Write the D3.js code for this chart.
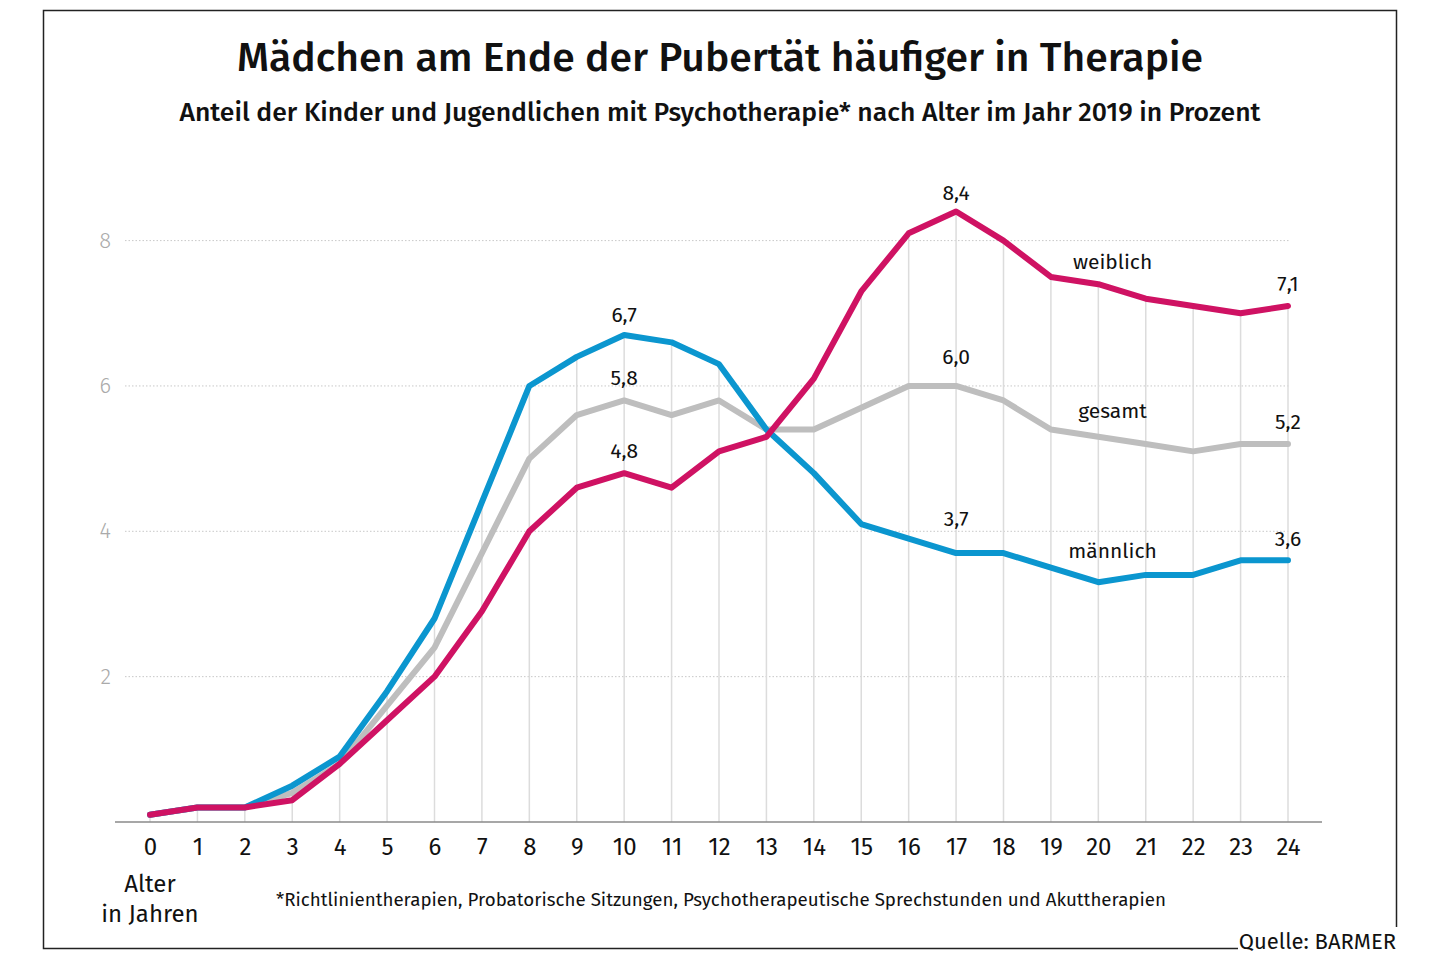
<!DOCTYPE html>
<html>
<head>
<meta charset="utf-8">
<script src="https://cdn.jsdelivr.net/npm/d3@7"></script>
<style>
  body { margin: 0; background: #fff; }
  text { font-family: "Fira Sans", Roboto, "Noto Sans", sans-serif; }
</style>
</head>
<body>
<div id="chart"></div>
<script>
// ages 0..24
var ages = d3.range(0, 25);
var weiblich = [0.1, 0.2, 0.2, 0.3, 0.8, 1.4, 2.0, 2.9, 4.0, 4.6, 4.8, 4.6, 5.1, 5.3, 6.1, 7.3, 8.1, 8.4, 8.0, 7.5, 7.4, 7.2, 7.1, 7.0, 7.1];
var maennlich = [0.1, 0.2, 0.2, 0.5, 0.9, 1.8, 2.8, 4.4, 6.0, 6.4, 6.7, 6.6, 6.3, 5.4, 4.8, 4.1, 3.9, 3.7, 3.7, 3.5, 3.3, 3.4, 3.4, 3.6, 3.6];
var gesamt = [0.1, 0.2, 0.2, 0.4, 0.8, 1.6, 2.4, 3.7, 5.0, 5.6, 5.8, 5.6, 5.8, 5.4, 5.4, 5.7, 6.0, 6.0, 5.8, 5.4, 5.3, 5.2, 5.1, 5.2, 5.2];
var yTicks = [2, 4, 6, 8];

// which values get a number label
var labelAges = [10, 17, 24];

var series = [
  { name: "gesamt", values: gesamt, color: "#bebebe", nameDy: -19, valDy: [-15, -22, -15] },
  { name: "männlich", values: maennlich, color: "#0b96cf", nameDy: -24, valDy: [-13, -27, -14] },
  { name: "weiblich", values: weiblich, color: "#cf1263", nameDy: -15, valDy: [-15, -12, -15] }
];

var width = 1440, height = 960;

var svg = d3.select("#chart").append("svg")
  .attr("width", width)
  .attr("height", height);

var x = d3.scaleLinear().domain([0, 24]).range([150, 1288]);
var y = d3.scaleLinear().domain([0, 8]).range([822, 240.6]);

// frame
svg.append("path")
  .attr("d", "M1238,948.5 H43.5 V10.5 H1396.5 V927")
  .attr("fill", "none")
  .attr("stroke", "#222")
  .attr("stroke-width", 1.5);

svg.append("text")
  .attr("x", 1396).attr("y", 949)
  .attr("text-anchor", "end")
  .attr("font-size", 22)
  .attr("fill", "#111")
  .text("Quelle: BARMER");

// title
svg.append("text")
  .attr("x", 720).attr("y", 71)
  .attr("text-anchor", "middle")
  .attr("font-size", 40)
  .attr("font-weight", 500)
  .attr("fill", "#111")
  .attr("textLength", 966)
  .attr("lengthAdjust", "spacingAndGlyphs")
  .text("Mädchen am Ende der Pubertät häufiger in Therapie");

svg.append("text")
  .attr("x", 720).attr("y", 121)
  .attr("text-anchor", "middle")
  .attr("font-size", 26)
  .attr("font-weight", 500)
  .attr("fill", "#111")
  .attr("textLength", 1081)
  .attr("lengthAdjust", "spacingAndGlyphs")
  .text("Anteil der Kinder und Jugendlichen mit Psychotherapie* nach Alter im Jahr 2019 in Prozent");

// horizontal dotted grid
svg.append("g").selectAll("line")
  .data(yTicks)
  .join("line")
  .attr("x1", 125).attr("x2", 1290)
  .attr("y1", d => y(d)).attr("y2", d => y(d))
  .attr("stroke", "#c8c8c8")
  .attr("stroke-width", 1)
  .attr("stroke-dasharray", "1.5,2");

svg.append("g").selectAll("text")
  .data(yTicks)
  .join("text")
  .attr("x", 111).attr("y", d => y(d) + 7)
  .attr("text-anchor", "end")
  .attr("font-size", 22)
  .attr("font-weight", 300)
  .attr("fill", "#aaa")
  .text(d => d);

// vertical grid up to the top value at each age
svg.append("g").selectAll("line")
  .data(ages)
  .join("line")
  .attr("x1", d => x(d)).attr("x2", d => x(d))
  .attr("y1", y(0))
  .attr("y2", (d, i) => y(Math.max(weiblich[i], maennlich[i], gesamt[i])))
  .attr("stroke", "#dcdcdc")
  .attr("stroke-width", 1.5);

// x axis
var xAxis = d3.axisBottom(x).tickValues(ages).tickSize(0).tickPadding(16);
var gx = svg.append("g")
  .attr("transform", "translate(0," + y(0) + ")")
  .call(xAxis);
gx.select(".domain").remove();
gx.selectAll("text")
  .attr("font-size", 24)
  .attr("font-family", "'Fira Sans', Roboto, 'Noto Sans', sans-serif")
  .attr("fill", "#111");
svg.append("line")
  .attr("x1", 115).attr("x2", 1322)
  .attr("y1", y(0)).attr("y2", y(0))
  .attr("stroke", "#8a8a8a")
  .attr("stroke-width", 1.5);

svg.append("text")
  .attr("x", 150).attr("y", 892)
  .attr("text-anchor", "middle")
  .attr("font-size", 24)
  .attr("fill", "#111")
  .text("Alter");
svg.append("text")
  .attr("x", 150).attr("y", 922)
  .attr("text-anchor", "middle")
  .attr("font-size", 24)
  .attr("fill", "#111")
  .text("in Jahren");

svg.append("text")
  .attr("x", 276).attr("y", 906)
  .attr("font-size", 19)
  .attr("fill", "#111")
  .attr("textLength", 890)
  .attr("lengthAdjust", "spacingAndGlyphs")
  .text("*Richtlinientherapien, Probatorische Sitzungen, Psychotherapeutische Sprechstunden und Akuttherapien");

// lines
var line = d3.line()
  .x((d, i) => x(ages[i]))
  .y(d => y(d));

svg.append("g").selectAll("path")
  .data(series)
  .join("path")
  .attr("d", d => line(d.values))
  .attr("fill", "none")
  .attr("stroke", d => d.color)
  .attr("stroke-width", 6)
  .attr("stroke-linejoin", "round")
  .attr("stroke-linecap", "round");

// value labels
var fmt = v => d3.format(".1f")(v).replace(".", ",");
series.forEach(function (s) {
  svg.append("g").selectAll("text")
    .data(labelAges)
    .join("text")
    .attr("x", d => x(d))
    .attr("y", (d, i) => y(s.values[d]) + s.valDy[i])
    .attr("text-anchor", "middle")
    .attr("font-size", 21)
    .attr("font-weight", 400)
    .attr("fill", "#111")
    .text(d => fmt(s.values[d]));

  svg.append("text")
    .attr("x", x(20.3))
    .attr("y", y(s.values[20]) + s.nameDy)
    .attr("text-anchor", "middle")
    .attr("font-size", 21)
    .attr("font-weight", 400)
    .attr("fill", "#111")
    .text(s.name);
});
</script>
</body>
</html>
